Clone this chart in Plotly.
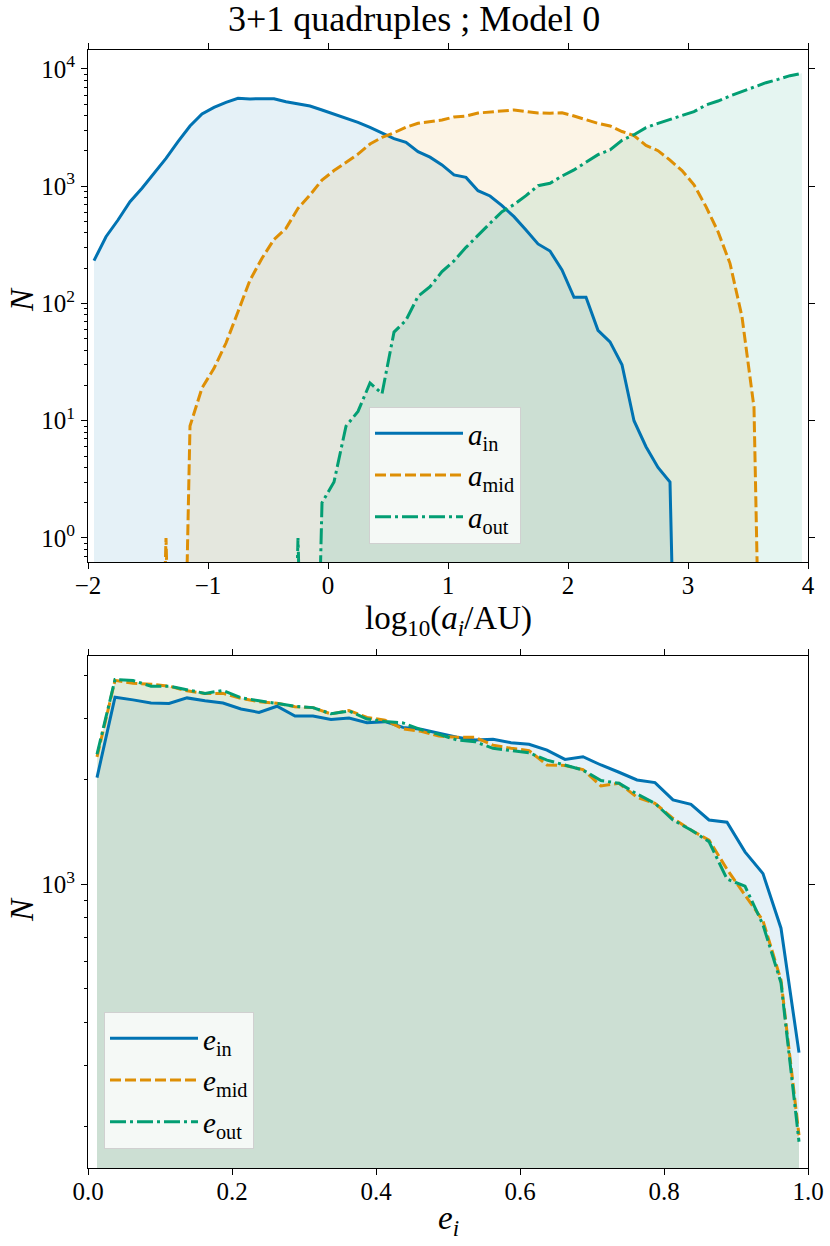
import numpy as np
import plotly.graph_objects as go

# ---------------- data ----------------
a_centers = [-1.95, -1.85, -1.75, -1.65, -1.55, -1.45, -1.35, -1.25, -1.15, -1.05,
             -0.95, -0.85, -0.75, -0.65, -0.55, -0.45, -0.35, -0.25, -0.15, -0.05,
             0.05, 0.15, 0.25, 0.35, 0.45, 0.55, 0.65, 0.75, 0.85, 0.95,
             1.05, 1.15, 1.25, 1.35, 1.45, 1.55, 1.65, 1.75, 1.85, 1.95,
             2.05, 2.15, 2.25, 2.35, 2.45, 2.55, 2.65, 2.75, 2.85, 2.95,
             3.05, 3.15, 3.25, 3.35, 3.45, 3.55, 3.65, 3.75, 3.85, 3.95]

N_a_in = [232, 371, 515, 738, 960, 1290, 1730, 2400, 3265, 4130,
          4710, 5200, 5620, 5560, 5560, 5580, 5260, 5060, 4830, 4470,
          4130, 3800, 3510, 3180, 2830, 2550, 2370, 1970, 1770, 1520,
          1250, 1190, 916, 826, 683, 550, 423, 322, 280, 193,
          113, 113, 59, 47, 30, 10, 6, 4, 3, 0,
          0, 0, 0, 0, 0, 0, 0, 0, 0, 0]

N_a_mid = [0, 0, 0, 0, 0, 0, 1, 0, 9, 19,
           28, 46, 85, 158, 243, 352, 437, 648, 842, 1130,
           1360, 1590, 1880, 2290, 2610, 2860, 3180, 3440, 3530, 3670,
           3900, 3970, 4210, 4300, 4360, 4470, 4330, 4220, 4200, 4230,
           3970, 3670, 3440, 3270, 2930, 2700, 2230, 2010, 1670, 1360,
           1030, 670, 410, 220, 77, 13, 0, 0, 0, 0]

N_a_out = [0, 0, 0, 0, 0, 0, 0, 0, 0, 0,
           0, 0, 0, 0, 0, 0, 0, 1, 0, 2,
           3, 9, 12, 21, 17, 57, 72, 115, 139, 187,
           231, 301, 384, 483, 607, 697, 832, 1010, 1060, 1220,
           1380, 1590, 1860, 2040, 2460, 2750, 3160, 3440, 3720, 4030,
           4330, 4930, 5330, 5890, 6400, 7060, 7640, 8160, 8770, 9190]

e_centers = [0.0125, 0.0375, 0.0625, 0.0875, 0.1125, 0.1375, 0.1625, 0.1875, 0.2125, 0.2375,
             0.2625, 0.2875, 0.3125, 0.3375, 0.3625, 0.3875, 0.4125, 0.4375, 0.4625, 0.4875,
             0.5125, 0.5375, 0.5625, 0.5875, 0.6125, 0.6375, 0.6625, 0.6875, 0.7125, 0.7375,
             0.7625, 0.7875, 0.8125, 0.8375, 0.8625, 0.8875, 0.9125, 0.9375, 0.9625, 0.9875]

N_e_in = [2030, 3460, 3400, 3330, 3320, 3445, 3380, 3330, 3200, 3130,
          3260, 3055, 3055, 2987, 3013, 2923, 2943, 2833, 2797, 2724,
          2653, 2606, 2617, 2560, 2531, 2436, 2290, 2332, 2207, 2103,
          1998, 1963, 1750, 1700, 1532, 1510, 1240, 1073, 747, 327]

N_e_mid = [2330, 3870, 3795, 3775, 3725, 3610, 3550, 3550, 3435, 3360,
           3325, 3250, 3230, 3097, 3170, 3025, 2973, 2805, 2760, 2673,
           2653, 2653, 2518, 2465, 2428, 2207, 2200, 2140, 1920, 1955,
           1781, 1711, 1549, 1433, 1340, 1105, 930, 785, 529, 189]

N_e_out = [2370, 3890, 3865, 3725, 3725, 3640, 3550, 3620, 3450, 3380,
           3325, 3260, 3230, 3100, 3160, 2995, 2945, 2918, 2790, 2705,
           2605, 2576, 2465, 2428, 2395, 2280, 2200, 2133, 1990, 1955,
           1820, 1711, 1532, 1433, 1327, 1035, 987, 764, 520, 181]

a_labels = ["<i>a</i><sub>in</sub>", "<i>a</i><sub>mid</sub>", "<i>a</i><sub>out</sub>"]
e_labels = ["<i>e</i><sub>in</sub>", "<i>e</i><sub>mid</sub>", "<i>e</i><sub>out</sub>"]

a_xticks = [-2, -1, 0, 1, 2, 3, 4]
a_xticktext = ["\u22122", "\u22121", "0", "1", "2", "3", "4"]
a_yticks = [1, 10, 100, 1000, 10000]
a_yticktext = ["10<sup>0</sup>", "10<sup>1</sup>", "10<sup>2</sup>", "10<sup>3</sup>", "10<sup>4</sup>"]
e_xticks = [0.0, 0.2, 0.4, 0.6, 0.8, 1.0]
e_xticktext = ["0.0", "0.2", "0.4", "0.6", "0.8", "1.0"]
e_yticks = [1000]
e_yticktext = ["10<sup>3</sup>"]

# ---------------- style ----------------
COLORS = ["#0173B2", "#DE8F05", "#029E73"]
FILLS = ["rgba(1,115,178,0.1)", "rgba(222,143,5,0.1)", "rgba(2,158,115,0.1)"]
DASHES = ["solid", "11px,4px", "16px,4px,3px,4px"]
FONT = "Liberation Serif"
LW = 3

W, H = 830, 1246
ML, MR, MT, MB = 88, 22, 50, 78
plot_w = W - ML - MR
plot_h = H - MT - MB
top_dom = [(H - MB - 562) / plot_h, 1.0]
bot_dom = [0.0, (H - MB - 656) / plot_h]

a_yrange = [-0.205, 4.162]
e_yrange = [2.182, 3.658]

FLOOR = 1e-4  # zero counts drawn below the axis (like log clipping)


def disp(v):
    arr = np.asarray(v, dtype=float)
    return np.where(arr > 0, arr, FLOOR)


def minor_log(lo, hi):
    vals = []
    for k in range(-2, 6):
        for m in range(2, 10):
            v = m * 10 ** k
            if 10 ** lo <= v <= 10 ** hi:
                vals.append(v)
    return vals


fig = go.Figure()

series_a = [N_a_in, N_a_mid, N_a_out]
series_e = [N_e_in, N_e_mid, N_e_out]

for i, s in enumerate(series_a):
    fig.add_trace(go.Scatter(x=a_centers, y=disp(s), mode="lines", fill="tozeroy",
                             fillcolor=FILLS[i], line=dict(width=0, color=FILLS[i]),
                             showlegend=False, hoverinfo="skip", xaxis="x", yaxis="y"))
for i, s in enumerate(series_e):
    fig.add_trace(go.Scatter(x=e_centers, y=disp(s), mode="lines", fill="tozeroy",
                             fillcolor=FILLS[i], line=dict(width=0, color=FILLS[i]),
                             showlegend=False, hoverinfo="skip", xaxis="x2", yaxis="y2"))
for i, s in enumerate(series_a):
    fig.add_trace(go.Scatter(x=a_centers, y=disp(s), mode="lines", name=a_labels[i],
                             line=dict(width=LW, color=COLORS[i], dash=DASHES[i]),
                             legend="legend", legendgroup="a%d" % i,
                             xaxis="x", yaxis="y"))
for i, s in enumerate(series_e):
    fig.add_trace(go.Scatter(x=e_centers, y=disp(s), mode="lines", name=e_labels[i],
                             line=dict(width=LW, color=COLORS[i], dash=DASHES[i]),
                             legend="legend2", legendgroup="e%d" % i,
                             xaxis="x2", yaxis="y2"))
fig.add_trace(go.Scatter(x=[None], y=[None], xaxis="x3", yaxis="y3", showlegend=False, hoverinfo="skip"))
fig.add_trace(go.Scatter(x=[None], y=[None], xaxis="x4", yaxis="y4", showlegend=False, hoverinfo="skip"))

tickfont = dict(family=FONT, size=25, color="black")
base = dict(showgrid=False, zeroline=False, ticks="outside", ticklen=6, tickwidth=1,
            tickcolor="black", automargin=False)
frame = dict(showline=True, mirror=True, linecolor="black", linewidth=1)
minor_style = dict(tickmode="array", ticks="outside", ticklen=3.5, tickwidth=1, tickcolor="black")

fig.update_layout(
    template="none",
    width=W, height=H,
    margin=dict(l=ML, r=MR, t=MT, b=MB, pad=0, autoexpand=False),
    paper_bgcolor="white", plot_bgcolor="white",
    font=dict(family=FONT, color="black"),
    xaxis=dict(domain=[0, 1], anchor="y", range=[-2, 4], tickmode="array",
               tickvals=a_xticks, ticktext=a_xticktext, tickfont=tickfont, ticklabelstandoff=-5,
               **base, **frame),
    yaxis=dict(domain=top_dom, anchor="x", type="log", range=a_yrange, tickmode="array",
               tickvals=a_yticks, ticktext=a_yticktext, tickfont=tickfont, ticklabelstandoff=1,
               minor=dict(tickvals=minor_log(*a_yrange), **minor_style), **base, **frame),
    xaxis3=dict(overlaying="x", anchor="y3", side="top", range=[-2, 4], tickmode="array",
                tickvals=a_xticks, showticklabels=False, showline=False, **base),
    yaxis3=dict(overlaying="y", anchor="x3", side="right", type="log", range=a_yrange,
                tickmode="array", tickvals=a_yticks, showticklabels=False, showline=False, **base),
    xaxis2=dict(domain=[0, 1], anchor="y2", range=[0, 1], tickmode="array",
                tickvals=e_xticks, ticktext=e_xticktext, tickfont=tickfont, ticklabelstandoff=-5,
                **base, **frame),
    yaxis2=dict(domain=bot_dom, anchor="x2", type="log", range=e_yrange, tickmode="array",
                tickvals=e_yticks, ticktext=e_yticktext, tickfont=tickfont, ticklabelstandoff=1,
                minor=dict(tickvals=minor_log(*e_yrange), **minor_style), **base, **frame),
    xaxis4=dict(overlaying="x2", anchor="y4", side="top", range=[0, 1], tickmode="array",
                tickvals=e_xticks, showticklabels=False, showline=False, **base),
    yaxis4=dict(overlaying="y2", anchor="x4", side="right", type="log", range=e_yrange,
                tickmode="array", tickvals=e_yticks, showticklabels=False, showline=False, **base),
    legend=dict(x=(369 - ML) / plot_w, y=(H - MB - 407) / plot_h, xanchor="left", yanchor="top",
                bgcolor="rgba(255,255,255,0.8)", bordercolor="#d0d0d0", borderwidth=1,
                font=dict(family=FONT, size=29, color="black"), tracegroupgap=1,
                itemwidth=88),
    legend2=dict(x=(104 - ML) / plot_w, y=(H - MB - 1012) / plot_h, xanchor="left", yanchor="top",
                 bgcolor="rgba(255,255,255,0.8)", bordercolor="#d0d0d0", borderwidth=1,
                 font=dict(family=FONT, size=29, color="black"), tracegroupgap=1,
                 itemwidth=88),
)


def py2paper(py):
    return (H - MB - py) / plot_h


def px2paper(px):
    return (px - ML) / plot_w


ann_font = dict(family=FONT, size=33, color="black")
annotations = [
    dict(text="3+1 quadruples ; Model 0", x=px2paper(414), y=py2paper(19), xref="paper",
         yref="paper", showarrow=False, xanchor="center", yanchor="middle",
         font=dict(family=FONT, size=36, color="black")),
    dict(text="log<sub>10</sub>(<i>a<sub>i</sub></i>/AU)", x=0.5, y=py2paper(620), xref="paper",
         yref="paper", showarrow=False, xanchor="center", yanchor="middle", font=ann_font),
    dict(text="<i>e<sub>i</sub></i>", x=0.5, y=py2paper(1220), xref="paper", yref="paper",
         showarrow=False, xanchor="center", yanchor="middle", font=ann_font),
    dict(text="<i>N</i>", x=px2paper(22), y=py2paper(300), xref="paper", yref="paper",
         showarrow=False, xanchor="center", yanchor="middle", textangle=-90, font=ann_font),
    dict(text="<i>N</i>", x=px2paper(22), y=py2paper(910), xref="paper", yref="paper",
         showarrow=False, xanchor="center", yanchor="middle", textangle=-90, font=ann_font),
]
fig.update_layout(annotations=annotations)

fig.write_html("out.html", config={"displayModeBar": False},
               post_script="document.body.style.margin='0';document.body.style.padding='0';")
